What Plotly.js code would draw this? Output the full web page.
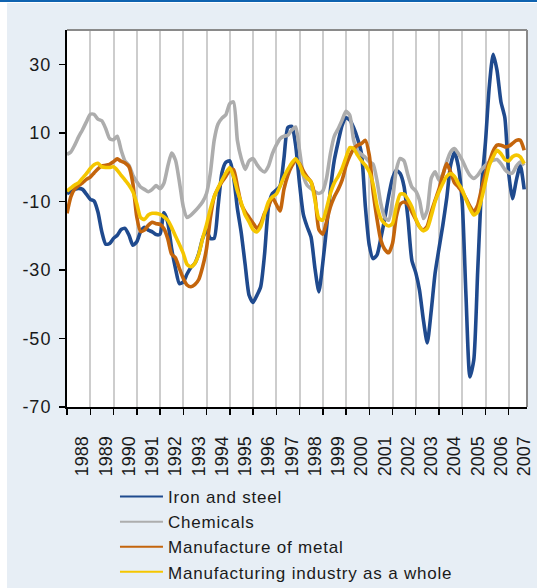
<!DOCTYPE html>
<html>
<head>
<meta charset="utf-8">
<script src="https://cdn.plot.ly/plotly-3.0.1.min.js"></script>
<style>
  html, body { margin: 0; padding: 0; background: #ffffff; }
  #bar { position: absolute; left: 0; top: 0; width: 537px; height: 2px; background: #0F63B0; }
  #chart { position: absolute; left: 7px; top: 3px; width: 530px; height: 585px; }
  .legendtext { letter-spacing: 0.8px; }
  .ytick text { letter-spacing: 1px; }
</style>
</head>
<body>
<div id="bar"></div>
<div id="chart"></div>
<script>
// Bi-monthly observations starting January 1988
const startYear = 1988;
const startMonth = 1;
const stepMonths = 2;

const seriesNames = ["Iron and steel", "Chemicals", "Manufacture of metal", "Manufacturing industry as a whole"];

const ironSteel = [
 -7.7,-7.2,-6.5,-6.2,-6.5,-7.9,-9.4,-9.9,-13.1,-18.9,
 -22.5,-22.3,-20.8,-19.9,-18.2,-17.9,-19.9,-22.8,-21.8,-18.9,
 -17.6,-18.4,-18.9,-19.7,-19.6,-13.3,-16.0,-23.7,-29.6,-34.0,
 -33.5,-31.2,-29.3,-28.1,-25.2,-20.8,-18.4,-20.8,-20.8,-11.5,
 -1.6,1.4,1.8,-2.7,-12.1,-19.2,-28.6,-37.4,-39.5,-37.5,
 -34.9,-25.4,-11.6,-7.7,-6.7,-5.5,2.5,11.5,11.9,6.4,
 -4.8,-13.7,-17.4,-20.4,-29.6,-36.4,-28.1,-17.9,-6.7,2.0,
 7.4,12.2,14.4,13.7,11.5,8.3,3.9,-11.6,-22.8,-26.7,
 -25.7,-20.8,-15.0,-8.5,-3.3,-0.9,-1.9,-5.6,-15.0,-27.2,
 -30.8,-35.9,-44.6,-51.3,-42.0,-31.0,-23.8,-17.0,-9.2,0.5,
 4.4,0.1,-10.6,-37.8,-61.2,-56.3,-30.1,-5.8,7.4,23.4,
 32.9,28.2,19.0,14.4,-1.9,-9.2,-3.8,0.5,-6.5
];

const chemicals = [
 3.7,4.4,6.4,8.8,10.9,13.2,15.4,15.4,14.0,13.5,
 11.2,8.3,8.0,9.0,4.9,1.7,0.5,-2.4,-4.3,-5.8,
 -6.5,-7.2,-6.5,-5.4,-6.3,-4.8,0.1,4.1,2.0,-4.3,
 -11.6,-14.7,-14.0,-12.9,-11.6,-10.1,-7.7,-1.9,7.8,12.6,
 14.3,15.3,18.5,19.0,7.8,2.5,-0.7,1.8,2.5,0.8,
 -0.7,-1.4,0.3,3.9,6.4,8.3,9.0,9.3,10.8,11.7,
 4.9,-2.4,-5.3,-6.3,-7.2,-7.7,-7.0,-3.3,3.9,9.0,
 11.2,13.7,16.3,15.1,7.8,4.7,3.7,2.8,1.5,0.9,
 -3.8,-10.6,-14.7,-15.5,-9.7,-0.9,2.5,1.8,-2.4,-5.8,
 -7.0,-9.7,-15.0,-12.6,-3.3,-1.4,-3.8,-2.1,1.5,4.4,
 5.4,3.9,2.0,-0.4,-2.4,-3.3,-2.4,-0.7,0.5,1.5,
 2.0,2.2,1.0,-0.7,-1.7,-1.7,0.3,1.5,0.5
];

const metalManufacture = [
 -13.5,-8.7,-6.4,-5.4,-4.6,-3.6,-2.9,-1.7,-0.5,0.3,
 0.5,0.8,1.6,2.4,1.7,1.2,0.1,-4.8,-14.5,-18.8,
 -18.4,-17.0,-16.1,-16.5,-16.7,-17.9,-20.8,-25.4,-26.5,-29.6,
 -32.5,-34.4,-34.9,-34.3,-32.8,-29.1,-23.8,-15.0,-8.7,-6.2,
 -4.3,-2.7,-0.9,-0.7,-5.6,-10.8,-13.1,-14.7,-16.3,-17.8,
 -16.5,-13.5,-11.4,-8.9,-10.9,-12.8,-6.5,-2.4,0.3,1.8,
 1.0,-1.1,-2.9,-4.3,-8.7,-18.2,-19.6,-16.0,-11.6,-8.7,
 -6.5,-3.8,0.3,3.2,5.3,6.4,6.9,7.8,3.5,-7.0,
 -15.0,-21.3,-24.0,-25.0,-22.3,-14.5,-10.8,-10.2,-10.9,-13.1,
 -15.3,-17.4,-18.4,-17.2,-13.1,-9.7,-6.4,-2.4,1.0,-1.4,
 -4.6,-5.8,-7.3,-9.2,-11.4,-13.1,-11.1,-6.3,-1.9,1.5,
 4.7,6.4,6.4,5.9,6.1,6.9,7.8,7.8,4.9
];

const manufacturingWhole = [
 -7.0,-6.1,-5.2,-4.6,-3.2,-1.9,-0.4,0.7,1.1,0.1,
 -0.1,-0.1,0.1,-0.9,-2.4,-3.8,-5.3,-7.2,-10.6,-14.7,
 -15.3,-14.0,-13.5,-13.5,-13.8,-14.5,-15.5,-17.6,-20.2,-22.6,
 -25.2,-28.4,-29.1,-28.1,-25.4,-20.8,-16.8,-12.3,-8.7,-6.1,
 -3.8,-1.7,-0.1,-2.7,-7.0,-10.4,-14.0,-16.0,-18.2,-18.9,
 -17.4,-13.7,-10.1,-8.7,-7.9,-5.6,-2.9,-0.7,1.2,2.4,
 0.8,-2.1,-3.3,-4.3,-9.7,-15.0,-15.5,-12.1,-7.7,-4.6,
 -2.7,-0.4,2.8,5.7,5.4,3.5,1.8,0.5,-1.4,-4.9,
 -11.1,-15.0,-16.5,-17.2,-16.5,-11.6,-7.9,-7.9,-9.5,-11.6,
 -15.0,-17.4,-18.6,-17.9,-14.3,-10.1,-7.2,-4.8,-2.7,-1.9,
 -2.7,-4.8,-6.7,-9.5,-12.1,-14.0,-13.1,-9.2,-4.3,0.5,
 3.0,4.9,3.9,2.2,1.8,3.0,3.5,3.0,1.0
];

const yTickValues = [-70, -50, -30, -10, 10, 30];
const yTickLabels = ["-70", "-50", "-30", "-10", "10", "30"];

// Observation dates (one per bi-monthly step)
const dates = ironSteel.map(function (_, j) {
  const m = (startMonth - 1) + j * stepMonths;
  const y = startYear + Math.floor(m / 12);
  const mm = String((m % 12) + 1).padStart(2, "0");
  return y + "-" + mm + "-01";
});

const colors = ["#1F4A8E", "#ADADAD", "#C4650C", "#F5C600"];
const values = [ironSteel, chemicals, metalManufacture, manufacturingWhole];

// data lines (not shown in legend)
const traces = values.map(function (v, i) {
  return {
    x: dates,
    y: v,
    type: "scatter",
    mode: "lines",
    name: seriesNames[i],
    showlegend: false,
    line: { color: colors[i], width: 3.6, shape: "spline", smoothing: 0.6 }
  };
});
// legend entries with thin sample lines
seriesNames.forEach(function (n, i) {
  traces.push({
    x: [null], y: [null],
    type: "scatter", mode: "lines",
    name: n,
    showlegend: true,
    line: { color: colors[i], width: 2 }
  });
});

const layout = {
  width: 530,
  height: 585,
  margin: { l: 60, r: 10, t: 27, b: 181 },
  paper_bgcolor: "#E7EEF5",
  plot_bgcolor: "#FFFFFF",
  font: { family: "Liberation Sans, Arial, sans-serif", size: 17, color: "#1a1a1a" },
  showlegend: true,
  xaxis: {
    type: "date",
    range: ["1988-01-01", "2007-10-15"],
    tick0: "1988-01-01",
    dtick: "M12",
    tickformat: "%Y",
    ticklabelmode: "period",
    tickangle: -90,
    ticks: "outside",
    ticklen: 6,
    tickwidth: 1.5,
    tickcolor: "#000",
    ticklabelstandoff: 14,
    ticklabelshift: 4,
    showgrid: true,
    gridcolor: "#CDCDCD",
    gridwidth: 2,
    showline: true,
    linecolor: "#000",
    linewidth: 2,
    zeroline: false,
    automargin: false,
    tickfont: { size: 18 }
  },
  yaxis: {
    range: [-70, 40],
    tickmode: "array",
    tickvals: yTickValues,
    ticktext: yTickLabels,
    ticks: "outside",
    ticklen: 6,
    tickwidth: 1.5,
    tickcolor: "#000",
    showgrid: false,
    showline: true,
    linecolor: "#000",
    linewidth: 2,
    zeroline: false,
    automargin: false,
    ticklabelstandoff: 4,
    tickfont: { size: 18 }
  },
  legend: {
    x: 0.1043,
    xanchor: "left",
    xref: "paper",
    y: 0.1863,
    yanchor: "top",
    yref: "container",
    bgcolor: "rgba(0,0,0,0)",
    borderwidth: 0,
    font: { size: 17 },
    itemwidth: 43
  },
  shapes: [
    { type: "line", xref: "paper", yref: "paper", x0: 0, x1: 1, y0: 1, y1: 1, line: { color: "#8A8A8A", width: 2 } },
    { type: "line", xref: "paper", yref: "paper", x0: 1, x1: 1, y0: 0, y1: 1, line: { color: "#8A8A8A", width: 2 } }
  ]
};

Plotly.newPlot("chart", traces, layout, { staticPlot: true, displayModeBar: false });
</script>
</body>
</html>
